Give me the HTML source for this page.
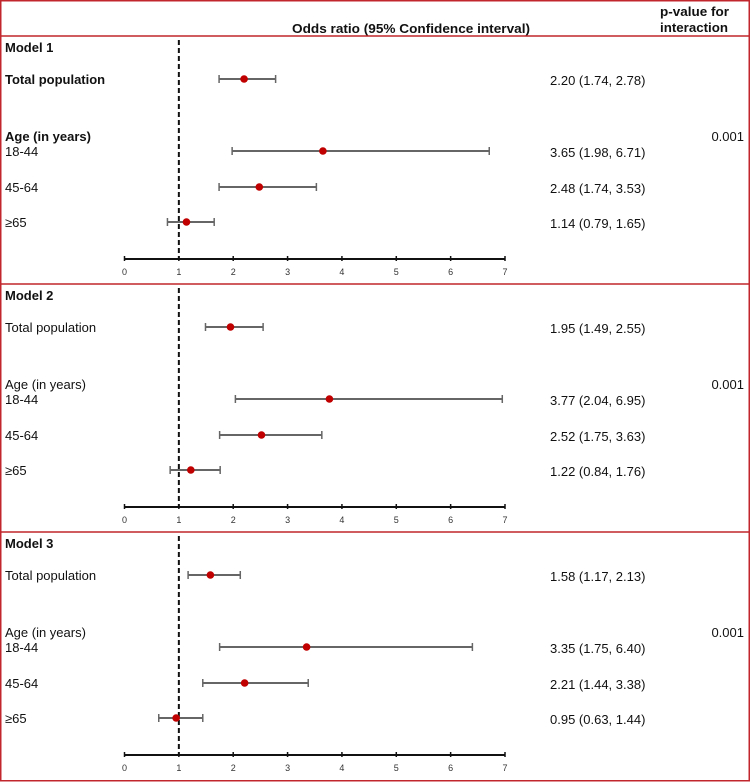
<!DOCTYPE html>
<html><head><meta charset="utf-8"><style>
html,body{margin:0;padding:0;background:#fff;}
svg{display:block;font-family:"Liberation Sans",Arial,sans-serif;}
</style></head><body>
<svg id="chart" width="750" height="782" viewBox="0 0 750 782" xmlns="http://www.w3.org/2000/svg">
<rect x="0" y="0" width="750" height="782" fill="#fff"/>
<g>
<text x="292" y="33" font-size="13" font-weight="bold" fill="#111" textLength="238" lengthAdjust="spacingAndGlyphs">Odds ratio (95% Confidence interval)</text>
<text x="660" y="16" font-size="12.5" font-weight="bold" fill="#111" textLength="69" lengthAdjust="spacingAndGlyphs">p-value for</text>
<text x="660" y="32" font-size="12.5" font-weight="bold" fill="#111" textLength="68" lengthAdjust="spacingAndGlyphs">interaction</text>
</g>
<g id="panels"></g>
<g id="borders" fill="none" stroke="#c0262c" stroke-width="1.5">
<rect x="0.75" y="0.75" width="748.5" height="780"/>
<line x1="0" y1="36" x2="750" y2="36"/>
<line x1="0" y1="284" x2="750" y2="284"/>
<line x1="0" y1="532" x2="750" y2="532"/>
</g>
</svg>
<script>
const models = ["Model 1", "Model 2", "Model 3"];
const rowLabels = ["Total population", "18-44", "45-64", "\u226565"];
const orValues = [[2.20, 3.65, 2.48, 1.14], [1.95, 3.77, 2.52, 1.22], [1.58, 3.35, 2.21, 0.95]];
const lowerCI = [[1.74, 1.98, 1.74, 0.79], [1.49, 2.04, 1.75, 0.84], [1.17, 1.75, 1.44, 0.63]];
const upperCI = [[2.78, 6.71, 3.53, 1.65], [2.55, 6.95, 3.63, 1.76], [2.13, 6.40, 3.38, 1.44]];
const pValues = ["0.001", "0.001", "0.001"];
const xTicks = [0, 1, 2, 3, 4, 5, 6, 7];
const refValue = 1;

const NS = "http://www.w3.org/2000/svg";
const root = document.getElementById("panels");
const panelTops = [36, 284, 532];
const rowOffsets = [43, 115, 151, 186];
function xScale(v) { return 124.5 + v * (505 - 124.5) / 7; }
function mk(tag, attrs, parent) {
  const e = document.createElementNS(NS, tag);
  for (const k in attrs) e.setAttribute(k, attrs[k]);
  parent.appendChild(e);
  return e;
}
function fmt(v) { return v.toFixed(2); }

models.forEach((m, p) => {
  const top = panelTops[p];
  const g = mk("g", {}, root);
  
  
  const bold = p === 0;
  const t = mk("text", {x: 5, y: top + 16, "font-size": 13, "font-weight": "bold", fill: "#111"}, g);
  t.textContent = m;
  
  
  const age = mk("text", {x: 5, y: top + 105, "font-size": 13, "font-weight": bold ? "bold" : "normal", fill: "#111"}, g);
  age.textContent = "Age (in years)";
  
  
  const pv = mk("text", {x: 744, y: top + 105, "font-size": 13, "text-anchor": "end", fill: "#111"}, g);
  pv.textContent = pValues[p];
  
  
  const axY = top + 223;
  const rx = xScale(refValue);
  const ref = mk("line", {x1: rx, y1: top + 4, x2: rx, y2: axY, stroke: "#111", "stroke-width": 2, "stroke-dasharray": "5,3"}, g);
  
  
  const ax = mk("line", {x1: xScale(xTicks[0]), y1: axY, x2: xScale(xTicks[xTicks.length - 1]), y2: axY, stroke: "#111", "stroke-width": 2}, g);
  
  
  xTicks.forEach(v => {
    const tk = mk("line", {x1: xScale(v), y1: axY - 3, x2: xScale(v), y2: axY + 2, stroke: "#111", "stroke-width": 1.5}, g);
    
    
    const tl = mk("text", {x: xScale(v), y: axY + 16, "font-size": 9, "text-anchor": "middle", fill: "#333"}, g);
    tl.textContent = v;
    
    
  });
  rowLabels.forEach((lab, i) => {
    const y = top + rowOffsets[i];
    const lt = mk("text", {x: 5, y: y + 5, "font-size": 13, "font-weight": (bold && i === 0) ? "bold" : "normal", fill: "#111"}, g);
    lt.textContent = lab;
    
    
    const x1 = xScale(lowerCI[p][i]), x2 = xScale(upperCI[p][i]), xc = xScale(orValues[p][i]);
    const ci = mk("line", {x1: x1, y1: y, x2: x2, y2: y, stroke: "#666", "stroke-width": 2}, g);
    
    
    [x1, x2].forEach(x => {
      const c = mk("line", {x1: x, y1: y - 4, x2: x, y2: y + 4, stroke: "#666", "stroke-width": 1.5}, g);
      
      
    });
    const pt = mk("circle", {cx: xc, cy: y, r: 3.8, fill: "#c00000"}, g);
    
    
    const ot = mk("text", {x: 550, y: y + 6, "font-size": 13, fill: "#111"}, g);
    ot.textContent = fmt(orValues[p][i]) + " (" + fmt(lowerCI[p][i]) + ", " + fmt(upperCI[p][i]) + ")";
    
    
  });
});
</script>
</body></html>
